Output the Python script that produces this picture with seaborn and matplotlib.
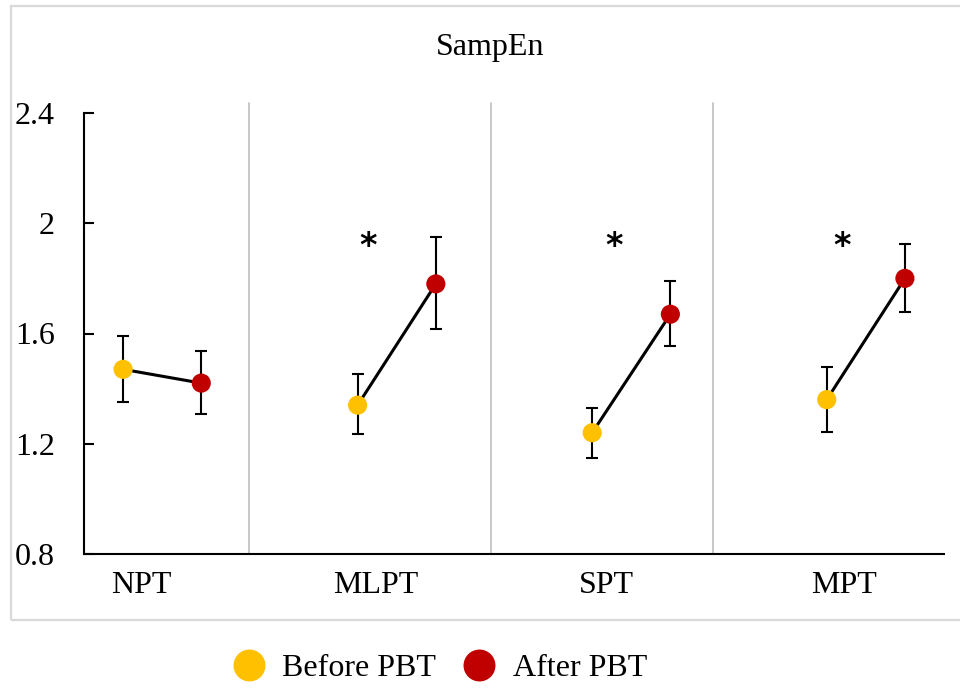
import matplotlib
matplotlib.use("Agg")
import matplotlib.pyplot as plt
import seaborn as sns
import pandas as pd
from matplotlib.lines import Line2D
from matplotlib.patches import Rectangle

# ---- data ----
groups = ["NPT", "MLPT", "SPT", "MPT"]
before_mean = [1.47, 1.34, 1.24, 1.36]
before_err_lo = [1.35, 1.235, 1.148, 1.243]
before_err_hi = [1.59, 1.453, 1.330, 1.479]
after_mean = [1.42, 1.78, 1.67, 1.80]
after_err_lo = [1.308, 1.616, 1.555, 1.678]
after_err_hi = [1.537, 1.950, 1.791, 1.925]
significant = [False, True, True, True]
y_ticks = [0.8, 1.2, 1.6, 2.0, 2.4]
y_tick_labels = ["0.8", "1.2", "1.6", "2", "2.4"]
phase_names = ["Before PBT", "After PBT"]
title = "SampEn"

YELLOW = "#FFC000"
RED = "#C00000"

sns.set_theme(style="white")
plt.rcParams["font.family"] = ["Liberation Serif", "DejaVu Serif"]
plt.rcParams["text.color"] = "black"

# build long table (positions: slots of category axis)
rows = []
for i, g in enumerate(groups):
    rows.append(dict(group=g, phase=phase_names[0], pos=3 * i, value=before_mean[i],
                     lo=before_err_lo[i], hi=before_err_hi[i]))
    rows.append(dict(group=g, phase=phase_names[1], pos=3 * i + 1, value=after_mean[i],
                     lo=after_err_lo[i], hi=after_err_hi[i]))
df = pd.DataFrame(rows)

fig = plt.figure(figsize=(9.6, 6.88), dpi=100)
ax = fig.add_axes([84 / 960, 1 - 554 / 688, (944 - 84) / 960, (554 - 113) / 688])

# outer chart border
fig.patches.append(Rectangle((11 / 960, 1 - 620 / 688), 1.2, (620 - 6) / 688,
                             transform=fig.transFigure, fill=False,
                             edgecolor="#D9D9D9", lw=1.6, zorder=0))

# separators
for xs in [1.61, 4.71, 7.55]:
    ax.axvline(xs, ymin=0, ymax=1.0225, color="#BFBFBF", lw=1.2, clip_on=False, zorder=1)

# error bars
ax.errorbar(df["pos"], df["value"],
            yerr=[df["value"] - df["lo"], df["hi"] - df["value"]],
            fmt="none", ecolor="black", elinewidth=1.5, capsize=4.5, capthick=1.5, zorder=2)

# connecting lines
sns.lineplot(data=df, x="pos", y="value", units="group", estimator=None,
             color="black", lw=2.2, ax=ax, zorder=3, legend=False)

# points
sns.scatterplot(data=df, x="pos", y="value", hue="phase",
                palette={phase_names[0]: YELLOW, phase_names[1]: RED},
                s=190, edgecolor="none", ax=ax, zorder=4, legend=False)

# significance stars
star_x = [0.5, 3.13, 6.28, 9.2]
for i, sig in enumerate(significant):
    if sig:
        ax.text(star_x[i], 1.915, "*", ha="center", va="center",
                fontsize=24, fontweight="bold", family="DejaVu Sans", color="black")

ax.set_xlim(-0.5, 10.5)
ax.set_ylim(0.8, 2.4)
ax.set_yticks(y_ticks)
ax.set_yticklabels(y_tick_labels)
ax.set_xticks([0.23, 3.23, 6.18, 9.22])
ax.set_xticklabels(groups)
ax.set_xlabel("")
ax.set_ylabel("")
ax.tick_params(axis="y", direction="in", length=7, width=1.5, color="black",
               pad=21, labelsize=23, left=True)
ax.tick_params(axis="x", length=0, pad=12, labelsize=23, bottom=False)
for lab in ax.get_xticklabels() + ax.get_yticklabels():
    lab.set_color("black")

for s in ["top", "right"]:
    ax.spines[s].set_visible(False)
for s in ["left", "bottom"]:
    ax.spines[s].set_color("black")
    ax.spines[s].set_linewidth(1.5)
ax.grid(False)
ax.set_facecolor("none")

fig.text(490 / 960, 1 - 48 / 688, title, ha="center", va="center", fontsize=23, color="black")

handles = [Line2D([], [], marker="o", linestyle="none", markersize=23,
                  markerfacecolor=c, markeredgecolor="none") for c in (YELLOW, RED)]
leg = fig.legend(handles, phase_names, loc="center", bbox_to_anchor=(440 / 960, 1 - 668 / 688),
                 ncol=2, frameon=False, fontsize=23, handletextpad=0.55, columnspacing=0.85,
                 handlelength=1.0)
for t in leg.get_texts():
    t.set_color("black")

fig.savefig("out.png", dpi=100)
